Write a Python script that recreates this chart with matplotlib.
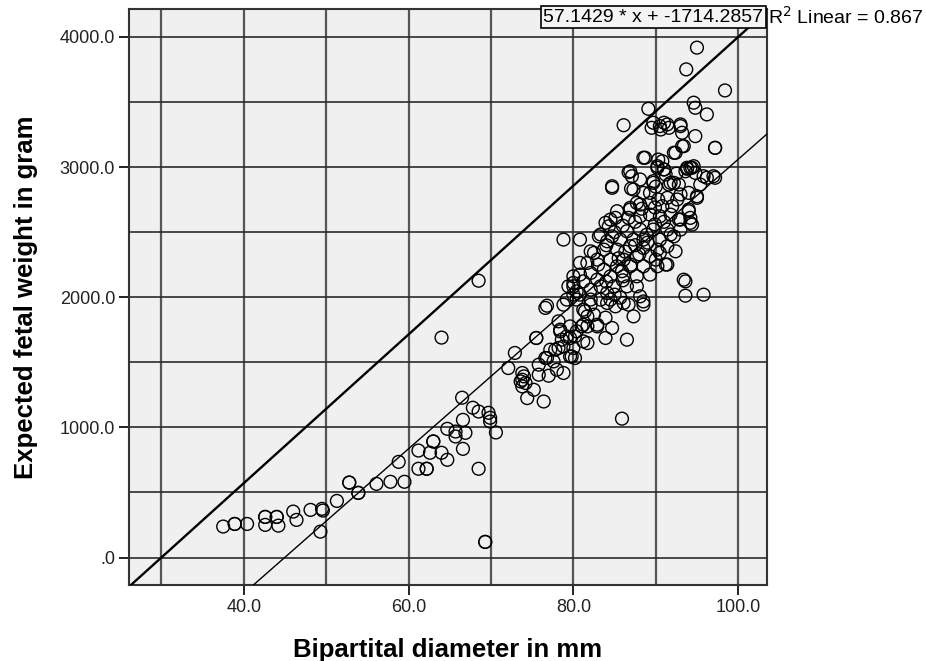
import matplotlib
matplotlib.use("Agg")
import matplotlib.pyplot as plt
import numpy as np

plt.rcParams['font.family'] = ['Liberation Sans', 'DejaVu Sans']

# bipartital diameter (mm) and expected fetal weight (g)
bpd_mm = [
    # lower tail
    37.5, 38.9, 38.9, 40.4, 42.6, 42.6, 42.6, 44.0, 44.0, 44.2, 46.0, 46.4,
    48.1, 49.5, 49.6, 49.3, 51.3, 52.8, 52.8, 53.9, 53.9, 56.1, 57.8, 59.5,
    58.8, 61.2, 61.2, 62.2, 62.2, 63.0, 63.0, 62.6, 64.0, 64.7, 64.7, 65.7,
    65.7, 66.9, 66.6, 66.6, 66.5, 67.8, 68.5, 68.5, 69.7, 69.9, 69.9, 70.6,
    69.3, 69.3, 64.0, 68.5,
    # middle
    76.6, 75.5, 75.5, 72.9, 72.1, 73.8, 73.8, 74.0, 73.6, 73.8, 74.2, 75.2,
    74.4, 76.4, 75.8, 75.8, 77.0, 76.6, 77.6, 76.8, 77.2, 77.8, 78.8, 80.0,
    79.6, 80.2, 79.8, 78.8, 78.0, 78.2, 78.6, 79.2, 79.6, 80.2, 80.4, 78.4,
    78.4, 78.2, 79.6, 81.0, 81.2, 81.7, 82.9, 81.7, 81.2, 84.7, 83.9, 86.5,
    85.9, 87.3, 88.5, 85.1, 82.5, 81.4, 80.4, 80.0, 80.8, 81.2, 81.7, 83.3,
    84.5, 85.7, 86.7, 82.1, 83.9, 82.9, 88.1, 86.1, 88.5, 84.1, 82.1, 80.0,
    79.2, 78.8, 76.8, 93.6, 93.6, 95.8,
    # dense cluster
    88.7, 90.3, 92.4, 86.9, 87.1, 88.1, 90.2, 91.0, 93.8, 94.4, 94.8, 96.2,
    97.2, 84.7, 87.3, 88.5, 89.7, 91.8, 92.8, 95.0, 94.0, 89.3, 90.3, 91.4,
    92.6, 89.3, 87.7, 86.9, 85.3, 84.5, 84.3, 85.1, 86.7, 88.1, 89.3, 90.5,
    91.8, 93.0, 94.2, 94.0, 94.4, 93.0, 91.4, 89.7, 88.1, 86.5, 84.7, 83.3,
    78.8, 80.8, 84.1, 85.7, 87.3, 88.5, 90.5, 92.2, 91.4, 90.2, 88.5, 86.9,
    85.3, 83.7, 82.5, 81.7, 82.9, 84.5, 86.1, 87.7, 89.3, 90.5, 92.4, 91.4,
    90.2, 88.5, 86.9, 85.3, 83.7, 82.1, 80.8, 80.0, 81.2, 82.9, 84.5, 86.1,
    87.7, 89.3, 86.5, 84.9, 83.3, 82.1, 80.4, 84.1, 87.7, 93.4, 87.0, 86.9,
    88.1, 83.9, 83.1, 82.1, 80.8, 80.0, 79.4, 95.0, 94.0, 94.2, 92.8, 91.8,
    91.2, 90.0,
    85.5, 86.3, 87.0, 85.9, 87.5, 88.9, 89.9, 86.0, 87.5, 88.3, 89.9, 90.8,
    86.0, 84.0, 85.0, 83.0, 84.0, 85.0, 88.0, 89.0, 91.0, 92.0, 93.0, 90.0,
    92.5,
    # upper
    95.0, 93.7, 98.4, 94.6, 94.8, 96.2, 89.1, 86.1, 89.7, 90.5, 91.4, 91.6,
    93.0, 93.2, 94.8, 93.2, 92.2, 97.2, 97.2, 88.5, 90.2, 91.0, 86.7, 93.8,
    94.6, 95.8, 97.0, 95.4, 92.2, 91.6, 91.2, 94.2, 93.6, 90.8, 84.7, 89.7,
    89.5, 91.0, 90.6, 93.0, 93.4,
]
efw_g = [
    # lower tail
    238, 258, 258, 258, 312, 312, 251, 312, 312, 245, 353, 289,
    366, 374, 361, 199, 435, 576, 576, 497, 497, 566, 582, 582,
    735, 822, 682, 682, 682, 892, 892, 805, 805, 751, 989, 930,
    968, 958, 1058, 835, 1228, 1151, 682, 1122, 1112, 1074, 1045, 961,
    120, 120, 1690, 2127,
    # middle
    1918, 1687, 1687, 1572, 1456, 1418, 1366, 1392, 1353, 1315, 1341, 1289,
    1225, 1199, 1482, 1405, 1397, 1533, 1507, 1533, 1597, 1597, 1622, 1610,
    1545, 1533, 1545, 1418, 1443, 1610, 1674, 1699, 1687, 1699, 1738, 1738,
    1751, 1815, 1776, 1776, 1789, 1776, 1776, 1648, 1661, 1764, 1687, 1674,
    1067, 1853, 1968, 1930, 1866, 1892, 1982, 2084, 2020, 1905, 1853, 1982,
    1982, 1997, 1943, 1943, 1843, 1789, 2007, 1956, 1943, 1956, 1982, 2020,
    1982, 1943, 1935, 2122, 2012, 2020,
    # dense cluster
    3072, 3058, 3110, 2968, 2930, 2905, 2995, 2982, 2995, 2995, 2956, 2918,
    2918, 2841, 2828, 2802, 2879, 2879, 2866, 2776, 2802, 2802, 2751, 2764,
    2751, 2725, 2725, 2674, 2661, 2597, 2545, 2610, 2610, 2622, 2635, 2622,
    2635, 2597, 2610, 2661, 2558, 2520, 2520, 2520, 2520, 2507, 2468, 2482,
    2443, 2443, 2430, 2443, 2443, 2443, 2443, 2468, 2392, 2366, 2379, 2392,
    2366, 2366, 2341, 2264, 2289, 2289, 2289, 2315, 2315, 2341, 2353, 2251,
    2238, 2238, 2238, 2238, 2212, 2187, 2174, 2110, 2122, 2135, 2161, 2161,
    2161, 2174, 2084, 2084, 2084, 2058, 2045, 2033, 2084, 2135, 2835, 2687,
    2712, 2572, 2468, 2353, 2264, 2161, 2084, 2764, 2674, 2572, 2597, 2482,
    2251, 2289,
    2300, 2350, 2250, 2200, 2400, 2480, 2560, 2550, 2580, 2680, 2690, 2700,
    2130, 2120, 2020, 2250, 2400, 2500, 2330, 2420, 2580, 2700, 2790, 2850,
    2950,
    # upper
    3918, 3751, 3589, 3495, 3456, 3405, 3448, 3322, 3341, 3315, 3328, 3302,
    3315, 3264, 3238, 3161, 3110, 3148, 3148, 3072, 3007, 2982, 2961, 2987,
    3007, 2930, 2930, 2866, 2879, 2866, 2943, 2995, 2968, 3045, 2853, 2892,
    3302, 3341, 3289, 3328, 3161,
]

# reference line shown in the box, and the fitted linear line
ref_slope, ref_intercept = 57.1429, -1714.2857
fit_slope, fit_intercept = 55.6, -2500.0
r2_linear = 0.867

x_ticks = [40, 60, 80, 100]
y_ticks = [0, 1000, 2000, 3000, 4000]
y_ticklabels = ['.0', '1000.0', '2000.0', '3000.0', '4000.0']

fig = plt.figure(figsize=(9.26, 6.61), dpi=100)
ax = fig.add_axes([0.1393, 0.115, 0.689, 0.8714])
ax.set_facecolor('#f0f0f0')
ax.set_xlim(26.07, 103.5)
ax.set_ylim(-211, 4215)

# grid
for gx in np.arange(30, 101, 10):
    ax.axvline(gx, color='#555555', lw=1.6, zorder=1)
for gy in np.arange(0, 4001, 500):
    ax.axhline(gy, color='#2a2a2a', lw=1.2, zorder=1)

xs = np.array(ax.get_xlim())
ax.plot(xs, ref_slope * xs + ref_intercept, color='black', lw=1.7, zorder=3)
ax.plot(xs, fit_slope * xs + fit_intercept, color='black', lw=1.0, zorder=3)

ax.scatter(bpd_mm, efw_g, s=85, facecolors='none', edgecolors='black',
           linewidths=1.0, zorder=4)

ax.set_xticks(x_ticks)
ax.set_xticklabels(['%.1f' % v for v in x_ticks])
ax.set_yticks(y_ticks)
ax.set_yticklabels(y_ticklabels)
ax.tick_params(direction='out', length=7, width=1.4, labelsize=13,
               colors='#222222', pad=3)
for sp in ax.spines.values():
    sp.set_color('#333333')
    sp.set_linewidth(1.5)

ax.set_xlabel('Bipartital diameter in mm', fontsize=18.5, fontweight='bold',
              labelpad=16)
ax.set_ylabel('Expected fetal weight in gram', fontsize=18.5, fontweight='bold',
              labelpad=16)

ax.text(0.994, 0.986, '57.1429 * x + -1714.2857', transform=ax.transAxes,
        ha='right', va='center', fontsize=14, zorder=6,
        bbox=dict(boxstyle='square,pad=0.12', fc='#f4f4f4', ec='black', lw=1.2))
fig.text(0.829, 0.975, 'R$^2$ Linear = %.3f' % r2_linear, ha='left',
         va='center', fontsize=14)

fig.savefig('out.png', dpi=100)
